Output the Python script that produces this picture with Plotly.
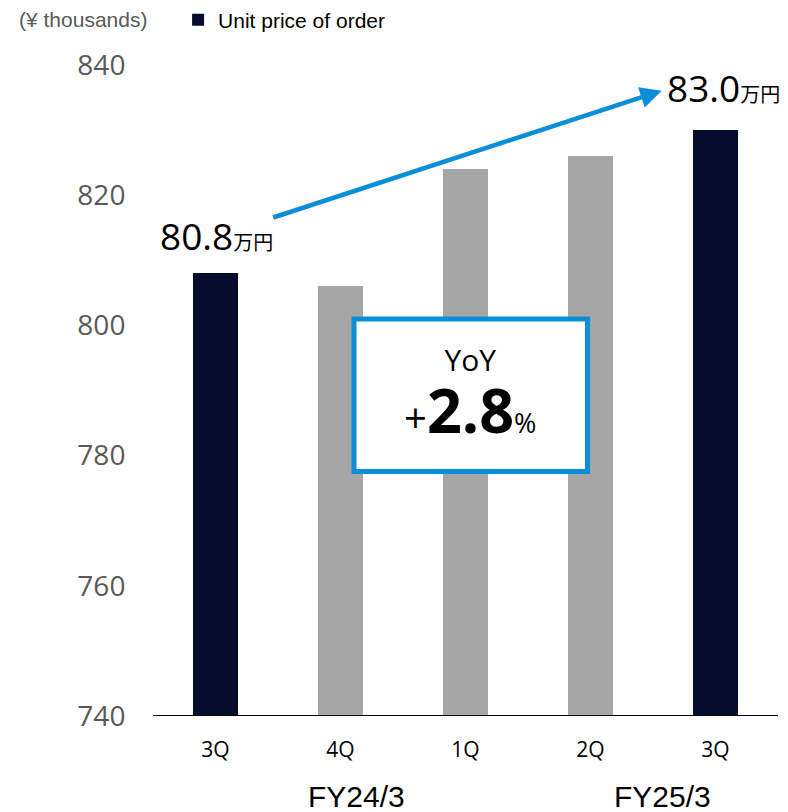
import plotly.graph_objects as go

quarters = ["3Q", "4Q", "1Q", "2Q", "3Q"]
unit_price = [808, 806, 824, 826, 830]
bar_colors = ["#050D2E", "#A6A6A6", "#A6A6A6", "#A6A6A6", "#050D2E"]
fiscal_years = ["FY24/3", "FY25/3"]
start_label = "80.8"
end_label = "83.0"
yoy_value = "2.8"
y_ticks = [740, 760, 780, 800, 820, 840]

xpos = list(range(len(quarters)))
NUM_FONT = "Open Sans, DejaVu Sans, sans-serif"
CJK_FONT = "Noto Sans CJK JP"
LAT_FONT = "Liberation Sans, Arial, sans-serif"

L, T, W, H = 153, 65, 625, 651


def px(xp):
    return (xp - L) / W


def py(yp):
    return (T + H - yp) / H


fig = go.Figure()
fig.add_trace(go.Bar(
    x=xpos, y=unit_price, marker=dict(color=bar_colors, line=dict(width=0)),
    width=0.36, name="Unit price of order", showlegend=True,
))

fig.update_layout(
    width=788, height=812,
    margin=dict(l=L, r=788 - L - W, t=T, b=812 - T - H, autoexpand=False),
    paper_bgcolor="white", plot_bgcolor="white",
    showlegend=True,
    legend=dict(xref="container", yref="container", x=0.226, y=1 - 20 / 812,
                xanchor="left", yanchor="middle",
                font=dict(family=LAT_FONT, size=21, color="#000000"),
                itemwidth=30, bgcolor="rgba(0,0,0,0)"),
    xaxis=dict(range=[-0.5, 4.5], tickvals=xpos, ticktext=quarters,
               showgrid=False, zeroline=False, showline=False, automargin=False,
               ticks="outside", ticklen=15, tickcolor="rgba(0,0,0,0)",
               tickfont=dict(family=NUM_FONT, size=21, color="#000000")),
    yaxis=dict(range=[740, 840], tickvals=y_ticks, showgrid=False, zeroline=False,
               showline=False, automargin=False, ticks="outside", ticklen=21,
               tickcolor="rgba(0,0,0,0)",
               tickfont=dict(family=NUM_FONT, size=28, color="#595959")),
    bargap=0,
)

# baseline axis
fig.add_shape(type="line", xref="paper", yref="y", x0=0, x1=1, y0=740, y1=740,
              line=dict(color="#000000", width=2))

# arrow
fig.add_annotation(x=3.57, y=836.05, ax=0.45, ay=816.5, xref="x", yref="y",
                   axref="x", ayref="y", text="", showarrow=True,
                   arrowhead=2, arrowsize=0.95, arrowwidth=4.5, arrowcolor="#0B8ED8")

# value labels
fig.add_annotation(x=px(216.5), y=py(235.5), xref="paper", yref="paper",
                   xanchor="center", yanchor="middle", showarrow=False,
                   text=f"<span style='font-size:37px;font-family:{NUM_FONT}'>{start_label}</span>"
                        f"<span style='font-size:20px;font-family:{CJK_FONT}'>万円</span>",
                   font=dict(color="#000000"))
fig.add_annotation(x=px(723.5), y=py(87), xref="paper", yref="paper",
                   xanchor="center", yanchor="middle", showarrow=False,
                   text=f"<span style='font-size:37px;font-family:{NUM_FONT}'>{end_label}</span>"
                        f"<span style='font-size:20px;font-family:{CJK_FONT}'>万円</span>",
                   font=dict(color="#000000"))

# YoY box
fig.add_shape(type="rect", xref="paper", yref="paper",
              x0=px(354), x1=px(587.5), y0=py(471.5), y1=py(319),
              line=dict(color="#0B8ED8", width=5), fillcolor="white", layer="above")
fig.add_annotation(xref="paper", yref="paper", x=px(470), y=py(395),
                   text=f"<span style='font-size:30px'>YoY</span><br>"
                        f"<span style='font-size:40px'>+</span><b style='font-size:61px'>{yoy_value}</b>"
                        f"<span style='font-size:27px'>%</span>",
                   showarrow=False, xanchor="center", yanchor="middle", align="center",
                   font=dict(family=NUM_FONT, size=48, color="#000000"))

# unit label
fig.add_annotation(xref="paper", yref="paper", x=px(17), y=py(20),
                   text="(¥ thousands)", showarrow=False, xanchor="left", yanchor="middle",
                   font=dict(family=LAT_FONT, size=21, color="#595959"))

# fiscal year labels
for label, xp in zip(fiscal_years, [356, 662]):
    fig.add_annotation(xref="paper", yref="paper", x=px(xp), y=py(796),
                       text=label, showarrow=False, xanchor="center", yanchor="middle",
                       font=dict(family=LAT_FONT, size=30, color="#000000"))

fig.write_html("out.html")
